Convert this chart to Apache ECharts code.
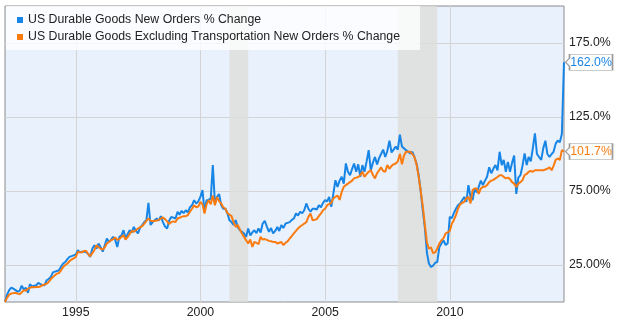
<!DOCTYPE html>
<html>
<head>
<meta charset="utf-8">
<script src="https://cdn.jsdelivr.net/npm/echarts@6/dist/echarts.min.js"></script>
<style>
  html, body { margin: 0; padding: 0; background: #ffffff; }
  #chart { width: 617px; height: 325px; }
</style>
</head>
<body>
<div id="chart"></div>
<script>
// Monthly series, cumulative % change since February 1992 (month-end dates).
const firstMonth = [1992, 2];

const durableGoods = [
  // 1992 (Feb-Dec)
  0, 5, 8, 9.7, 9, 8, 7, 7.5, 11, 8.5, 9.5,
  // 1993
  6.2, 12, 10.5, 11, 11.3, 13, 12, 11.5, 11.3, 14.7, 15.5, 17,
  // 1994
  20, 19, 21, 21.4, 24, 26, 27, 29, 30.5, 31, 31.5, 32,
  // 1995
  35, 33.5, 34, 34, 33.8, 32.5, 30.5, 36, 38.4, 36, 39.5, 37,
  // 1996
  34, 32.7, 42.9, 40.6, 42, 44, 42, 37.2, 44, 45, 48.5, 42.9,
  // 1997
  46, 48.5, 47, 50.7, 48, 46.3, 50.3, 52, 54, 55.3, 67, 52,
  // 1998
  54, 55, 56.4, 55, 58, 54, 51, 49.7, 55, 57.5, 57, 56.4,
  // 1999
  61, 59, 61.6, 60, 62, 60.5, 64, 65.4, 68.8, 66.6, 68, 71,
  // 2000
  75.6, 61, 68.8, 69, 70, 92.5, 66.6, 71, 73, 65.4, 63, 63,
  // 2001
  59.8, 55.3, 54, 52, 55.3, 50.7, 48.5, 47.4, 46.3, 44, 49.7, 45,
  // 2002
  47, 48.5, 46.5, 49.7, 47, 53, 54.8, 51, 47.4, 50, 46.3, 48,
  // 2003
  50.7, 48, 52, 50, 53, 53.5, 54, 55.5, 56.4, 59.8, 58.5, 61,
  // 2004
  60, 62, 66.6, 63, 61, 63, 63, 62.5, 65.4, 64, 67, 68.8,
  // 2005
  68, 71, 64.3, 73, 82.3, 77.8, 82, 84.6, 80, 93.6, 88, 85.7,
  // 2006
  90, 93.6, 88, 93, 84.6, 92.5, 88, 95, 102.6, 89, 94, 98,
  // 2007
  93, 97, 100, 103, 98, 102, 109, 101, 103, 105, 103, 113,
  // 2008
  105, 104, 102.6, 101.5, 100.4, 101.5, 98, 93.6, 86, 75, 62, 50,
  // 2009
  33, 26, 23.7, 24.5, 26.5, 27, 37, 39.5, 41.7, 38.5, 39.5, 57.5,
  // 2010
  56.6, 60, 63, 65.4, 66.6, 68.8, 71, 67.7, 79, 71, 68.8, 76.7,
  // 2011
  74, 73, 82, 79, 82, 84.6, 91, 87, 90, 92.5, 89, 101.5,
  // 2012
  92.5, 96, 88, 94.7, 88, 94, 99, 73, 84, 85.7, 92, 100.4,
  // 2013
  92.5, 98, 95, 103.8, 114, 100, 98, 96, 103.8, 109, 100, 98,
  // 2014 (Jan-Jul)
  100, 101.5, 107, 109, 108, 113.7, 162.0
];

const exTransport = [
  // 1992 (Feb-Dec)
  0, 3, 5, 5.7, 6, 6.1, 5.8, 5.2, 6.5, 8, 7.5,
  // 1993
  9, 8.5, 10.1, 10, 10.1, 10.1, 10.5, 11.3, 11.8, 12.4, 13.5, 15.5,
  // 1994
  16.9, 18, 19.2, 19.5, 21.5, 23.7, 25, 26, 27.5, 28.7, 29.5, 30.4,
  // 1995
  33.8, 33, 33.5, 34.5, 34.5, 32.5, 30.9, 33, 35, 38.4, 37, 36,
  // 1996
  35.4, 37, 39.5, 40.5, 41.7, 42.5, 43.6, 42, 42.5, 44, 45.1, 42.2,
  // 1997
  44, 46, 48, 47.5, 48.5, 49.7, 50.5, 51.2, 53, 54.8, 56.4, 55,
  // 1998
  54.5, 55, 55, 55.5, 56.4, 57.1, 56, 54.5, 52.6, 54, 54.5, 54,
  // 1999
  56.4, 56, 57.5, 58, 58, 58.7, 61, 63, 65.4, 64, 64.5, 67.7,
  // 2000
  66, 59.8, 66, 68.8, 66, 72, 65.4, 71, 68, 66.6, 64, 63,
  // 2001
  60, 58.7, 58, 54, 50.7, 52, 49, 46.3, 44, 41.7, 39.5, 42.2,
  // 2002
  37.2, 40.6, 40, 39, 44, 42.2, 42.5, 42, 41.3, 41, 40.6, 40.6,
  // 2003
  39.5, 40, 40.5, 38.4, 40, 41, 42.9, 44.5, 46.3, 48, 49.7, 51,
  // 2004
  52, 53, 54, 57.5, 59.8, 55.3, 55.5, 56, 58, 59.8, 62, 63,
  // 2005
  65.4, 66, 67, 70, 71, 72, 69, 74.4, 77.8, 79, 80, 81,
  // 2006
  82, 83.5, 84, 84.5, 85.7, 88, 84.6, 86.5, 88, 89, 86, 83.5,
  // 2007
  87, 88, 91, 88.5, 88, 92.5, 90, 92, 93, 93.6, 95, 100,
  // 2008
  93, 99, 101.5, 101.5, 101.5, 100, 98, 93, 85, 75, 65, 52,
  // 2009
  40, 36, 37, 33, 33.5, 36, 39.5, 41.7, 43, 46.3, 47, 48,
  // 2010
  53, 55.3, 58.7, 63, 66, 67, 67.7, 70, 71, 66.6, 75.6, 76.7,
  // 2011
  76.7, 73, 76.7, 77.8, 77.8, 79, 81, 82, 82.5, 83.5, 84.5, 85.7,
  // 2012
  85.7, 84.5, 83.5, 84, 83, 81, 80, 77.8, 80, 81, 82.3, 85.7,
  // 2013
  86.5, 88, 88.5, 88, 89, 89, 89, 89, 89, 89.5, 90, 91,
  // 2014 (Jan-Jul)
  89, 92, 96, 97, 96, 102.6, 101.7
];

const seriesNames = [
  'US Durable Goods New Orders % Change',
  'US Durable Goods Excluding Transportation New Orders % Change'
];
const seriesColors = ['#1785e6', '#fa7b10'];
const yearTicks = [1995, 2000, 2005, 2010];
const percentTicks = [25, 75, 125, 175];
const recessions = [
  ['2001-03-01', '2001-11-30'],
  ['2007-12-01', '2009-06-30']
];

const FONT = '"Liberation Sans", Arial, Helvetica, sans-serif';
const FONT_SIZE = 12.3;

// Month-end timestamp for the i-th month after firstMonth.
function monthEnd(i) {
  return Date.UTC(firstMonth[0], firstMonth[1] - 1 + i + 1, 0);
}
function toPoints(values) {
  return values.map((v, i) => [monthEnd(i), v]);
}
function fmtPct(v) {
  return Number(v).toPrecision(4) + '%';
}
function toTime(d) {
  const p = d.split('-').map(Number);
  return Date.UTC(p[0], p[1] - 1, p[2]);
}

const lastIndex = durableGoods.length - 1;
const yearTimes = yearTicks.map(y => Date.UTC(y, 0, 1));

// Callout with a small pointer on its left side.
const calloutPath = 'path://M0,8 L4,4 L4,0 L47,0 L47,16 L4,16 L4,12 Z';

function lastValueCallout(values, color) {
  const v = values[values.length - 1];
  return {
    silent: true,
    animation: false,
    symbol: calloutPath,
    symbolSize: [47, 16],
    symbolKeepAspect: false,
    symbolOffset: [25, 0],
    itemStyle: { color: '#ffffff', borderColor: '#9a9a9a', borderWidth: 1 },
    label: {
      show: true,
      position: 'inside',
      offset: [2, 0],
      color: color,
      fontFamily: FONT,
      fontSize: FONT_SIZE,
      formatter: () => v.toFixed(1) + '%'
    },
    data: [{ coord: [monthEnd(values.length - 1), v] }]
  };
}

function lineSeries(name, values, color, extra) {
  return Object.assign({
    name: name,
    type: 'line',
    data: toPoints(values),
    showSymbol: false,
    symbol: 'none',
    lineStyle: { color: color, width: 2 },
    itemStyle: { color: color },
    animation: false,
    markPoint: lastValueCallout(values, color)
  }, extra || {});
}

const chart = echarts.init(document.getElementById('chart'), null, { renderer: 'canvas' });

chart.setOption({
  animation: false,
  backgroundColor: '#ffffff',
  textStyle: { fontFamily: FONT },
  grid: {
    left: 5, right: 53, top: 6, bottom: 23,
    show: true,
    backgroundColor: '#e9f1fd',
    borderColor: '#8c8c8c',
    borderWidth: 1
  },
  legend: {
    data: seriesNames,
    orient: 'vertical',
    left: 6,
    top: 6,
    padding: [7, 20, 6, 11],
    backgroundColor: 'rgba(255,255,255,0.78)',
    icon: 'rect',
    itemWidth: 6,
    itemHeight: 6,
    itemGap: 3,
    selectedMode: false,
    textStyle: { fontFamily: FONT, fontSize: FONT_SIZE, color: '#222222', lineHeight: 14 }
  },
  // Time runs on a numeric axis of timestamps so that the year ticks can be placed exactly.
  xAxis: {
    type: 'value',
    min: monthEnd(0),
    max: monthEnd(lastIndex),
    axisLine: { show: false },
    axisTick: { show: false, customValues: yearTimes },
    axisLabel: {
      customValues: yearTimes,
      margin: 5,
      color: '#222222',
      fontFamily: FONT,
      fontSize: FONT_SIZE,
      formatter: v => String(new Date(v).getUTCFullYear())
    },
    splitLine: { show: true, lineStyle: { color: '#d4d4d4', width: 1 } }
  },
  yAxis: {
    type: 'value',
    position: 'right',
    min: 0,
    max: 200,
    interval: 25,
    axisLine: { show: false },
    axisTick: { show: false },
    axisLabel: {
      margin: 5,
      color: '#222222',
      fontFamily: FONT,
      fontSize: FONT_SIZE,
      formatter: v => (percentTicks.indexOf(v) >= 0 ? fmtPct(v) : '')
    },
    splitLine: {
      show: true,
      lineStyle: { color: ['rgba(0,0,0,0)', '#d4d4d4'], width: 1 }
    }
  },
  series: [
    lineSeries(seriesNames[0], durableGoods, seriesColors[0], {
      markArea: {
        silent: true,
        itemStyle: { color: 'rgba(222,220,216,0.78)' },
        data: recessions.map(r => [{ xAxis: toTime(r[0]) }, { xAxis: toTime(r[1]) }])
      }
    }),
    lineSeries(seriesNames[1], exTransport, seriesColors[1])
  ]
});
</script>
</body>
</html>
